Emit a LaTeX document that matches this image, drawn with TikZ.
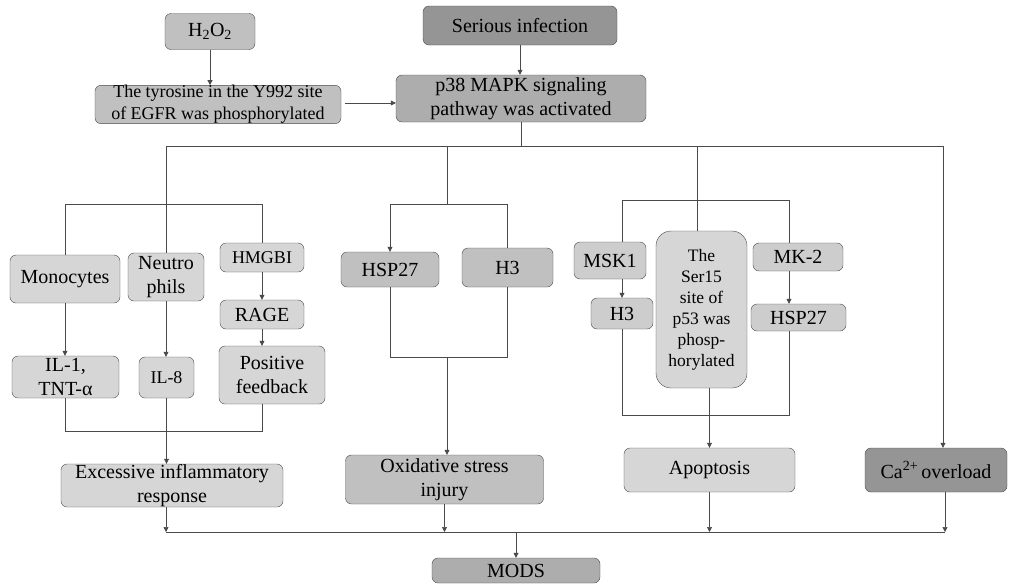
\documentclass[tikz,border=0pt]{standalone}
\usepackage{fontspec}
\setmainfont{Liberation Serif}
\usetikzlibrary{arrows.meta}
\definecolor{boxlight}{HTML}{D6D6D6}
\definecolor{boxsoft}{HTML}{CDCDCD}
\definecolor{boxmid}{HTML}{C0C0C0}
\definecolor{boxpath}{HTML}{ADADAD}
\definecolor{boxdark}{HTML}{959595}
\definecolor{edge}{HTML}{4A4A4A}
\begin{document}
\begin{tikzpicture}[x=1pt,y=-1pt,
  cell/.style={draw=edge,rounded corners=6pt,inner sep=0pt,align=center,
    font=\rmfamily\fontsize{20}{24.5}\selectfont},
  lbox/.style={cell,fill=boxlight},
  sbox/.style={cell,fill=boxsoft},
  mbox/.style={cell,fill=boxmid},
  dbox/.style={cell,fill=boxdark},
  small/.style={font=\rmfamily\fontsize{18}{22}\selectfont},
  tiny/.style={font=\rmfamily\fontsize{17.5}{21}\selectfont},
  link/.style={draw=edge,line width=0.7pt},
  >={Triangle[length=5pt,width=5pt]}]
\useasboundingbox (0,0) rectangle (1009,584);

% top part
\node[mbox,minimum width=90pt,minimum height=36pt] (h2o2) at (210,31.5) {H\textsubscript{2}O\textsubscript{2}};
\node[mbox,small,minimum width=246pt,minimum height=37pt] (tyr) at (218,104.5)
  {The tyrosine in the Y992 site\\of EGFR was phosphorylated};
\node[dbox,minimum width=194pt,minimum height=39pt] (inf) at (520,25.5) {Serious infection};
\node[cell,fill=boxpath,minimum width=250pt,minimum height=47pt] (p38) at (521,98.5)
  {p38 MAPK signaling\\pathway was activated};

% inflammation branch
\node[lbox,minimum width=110pt,minimum height=48pt] (mono) at (65,279) {Monocytes};
\node[lbox,minimum width=76pt,minimum height=48pt] (neut) at (166,277) {Neutro\\phils};
\node[lbox,small,minimum width=84pt,minimum height=29pt] (hmgb) at (262,257.5) {HMGBI};
\node[lbox,minimum width=84pt,minimum height=29pt] (rage) at (262,314.5) {RAGE};
\node[lbox,minimum width=106pt,minimum height=58pt] (posf) at (272,375) {Positive\\feedback};
\node[lbox,minimum width=107pt,minimum height=42pt] (il1) at (65.5,377) {IL-1,\\TNT-α};
\node[lbox,small,minimum width=55pt,minimum height=41pt] (il8) at (166.5,377.5) {IL-8};
\node[lbox,minimum width=222pt,minimum height=43pt] (exc) at (172,485.5)
  {Excessive inflammatory\\response};

% oxidative branch
\node[mbox,minimum width=98pt,minimum height=35pt] (hspa) at (390,269.5) {HSP27};
\node[mbox,minimum width=91pt,minimum height=39pt] (h3a) at (507.5,267.5) {H3};
\node[mbox,minimum width=198pt,minimum height=49pt] (oxi) at (444.5,479.5)
  {Oxidative stress\\injury};

% apoptosis branch
\node[sbox,minimum width=72pt,minimum height=37pt] (msk) at (610,260.5) {MSK1};
\node[sbox,minimum width=62pt,minimum height=31pt] (h3b) at (622,313.5) {H3};
\node[lbox,tiny,rounded corners=15pt,minimum width=91pt,minimum height=157pt] (p53) at (701.5,309.5)
  {The\\Ser15\\site of\\p53 was\\phosp-\\horylated};
\node[sbox,minimum width=90pt,minimum height=28pt] (mk2) at (798,257) {MK-2};
\node[sbox,minimum width=95pt,minimum height=27pt] (hspb) at (798.5,317.5) {HSP27};
\node[lbox,minimum width=171pt,minimum height=44pt] (apo) at (709.5,470) {Apoptosis};
\node[dbox,minimum width=142pt,minimum height=44pt] (ca) at (936,470) {Ca\textsuperscript{2+}\,overload};

\node[cell,fill=boxpath,minimum width=168pt,minimum height=25pt] (mods) at (516,570.5) {MODS};

% junction points
\coordinate (arrT) at (345,103);
\coordinate (busL) at (166,146);
\coordinate (busR) at (943,146);
\coordinate (busC) at (447,146);
\coordinate (busA) at (697,146);
\coordinate (infJ) at (166,204);
\coordinate (infB) at (166,431);
\coordinate (oxJ) at (447,204);
\coordinate (oxB) at (447,357);
\coordinate (apJ) at (789,200);
\coordinate (apB) at (789,415);
\coordinate (endL) at (166,532);
\coordinate (endR) at (945,532);

% connectors at the top
\draw[link,->] (h2o2.south) -- (h2o2.south |- tyr.north);
\draw[link,->] (arrT) -- (p38.west |- arrT);
\draw[link,->] (inf.south) -- (inf.south |- p38.north);
\draw[link] (p38.south) -- (p38.south |- busL);
\draw[link] (busL) -- (busR);
\draw[link,->] (busR) -- (busR |- ca.north);

% inflammation
\draw[link] (busL) -- (neut.north);
\draw[link] (mono.north) |- (rage.north |- infJ) -- (hmgb.north);
\draw[link,->] (mono.south) -- (mono.south |- il1.north);
\draw[link,->] (neut.south) -- (neut.south |- il8.north);
\draw[link,->] (hmgb.south) -- (rage.north);
\draw[link,->] (rage.south) -- (rage.south |- posf.north);
\draw[link] (il1.south) |- (rage.south |- infB) -- (rage.south |- posf.south);
\draw[link,->] (il8.south) -- (il8.south |- exc.north);

% oxidative stress
\draw[link] (busC) -- (oxJ);
\draw[link,->] (h3a.north) |- (hspa.north |- oxJ) -- (hspa.north);
\draw[link] (hspa.south) |- (h3a.south |- oxB) -- (h3a.south);
\draw[link,->] (oxB) -- (oxB |- oxi.north);

% apoptosis
\draw[link] (busA) -- (busA |- p53.north);
\draw[link] (h3b.north |- msk.north) |- (apJ) -- (apJ |- mk2.north);
\draw[link,->] (h3b.north |- msk.south) -- (h3b.north);
\draw[link,->] (apJ |- mk2.south) -- (apJ |- hspb.north);
\draw[link] (h3b.south) |- (apB) -- (apJ |- hspb.south);
\draw[link,->] (apo.north |- p53.south) -- (apo.north);

% towards MODS
\draw[link] (endL) -- (endR);
\draw[link,->] (endL |- exc.south) -- (endL);
\draw[link,->] (oxi.south) -- (oxi.south |- endL);
\draw[link,->] (apo.south) -- (apo.south |- endL);
\draw[link,->] (endR |- ca.south) -- (endR);
\draw[link,->] (mods.north |- endL) -- (mods.north);
\end{tikzpicture}
\end{document}
